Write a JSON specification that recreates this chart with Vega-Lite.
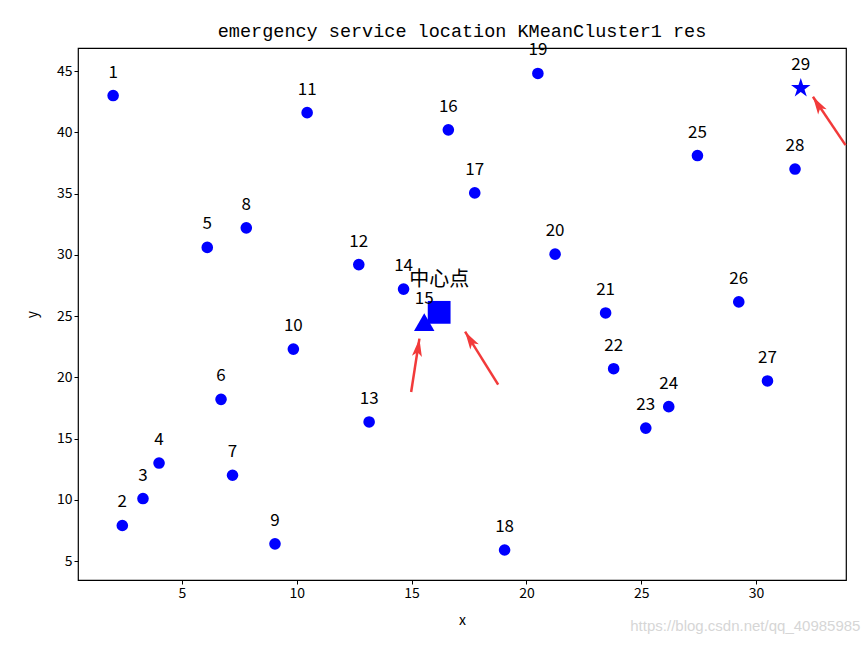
{
  "$schema": "https://vega.github.io/schema/vega-lite/v6.json",
  "autosize": {"type": "none"},
  "width": 768,
  "height": 532,
  "padding": {"left": 78, "top": 48, "right": 22, "bottom": 65},
  "background": "white",
  "config": {
    "font": "Noto Sans CJK SC",
    "view": {"stroke": "black", "strokeWidth": 1.2},
    "axis": {"grid": false, "domain": false, "tickColor": "black", "tickSize": 4, "labelColor": "black", "labelFontSize": 14, "labelFont": "Noto Sans CJK SC", "titleFont": "Noto Sans CJK SC", "titleFontSize": 14, "titleFontWeight": "normal", "titleColor": "black"}
  },
  "title": {"text": "emergency service location KMeanCluster1 res", "font": "Liberation Mono", "fontSize": 18.5, "fontWeight": "normal", "color": "black", "offset": 1},
  "datasets": {
    "pts": [
      {"id": "1", "x": 2.0, "y": 43.0, "type": "point"},
      {"id": "2", "x": 2.4, "y": 7.9, "type": "point"},
      {"id": "3", "x": 3.3, "y": 10.1, "type": "point"},
      {"id": "4", "x": 4.0, "y": 13.0, "type": "point"},
      {"id": "5", "x": 6.1, "y": 30.6, "type": "point"},
      {"id": "6", "x": 6.7, "y": 18.2, "type": "point"},
      {"id": "7", "x": 7.2, "y": 12.0, "type": "point"},
      {"id": "8", "x": 7.8, "y": 32.2, "type": "point"},
      {"id": "9", "x": 9.05, "y": 6.4, "type": "point"},
      {"id": "10", "x": 9.85, "y": 22.3, "type": "point"},
      {"id": "11", "x": 10.45, "y": 41.6, "type": "point"},
      {"id": "12", "x": 12.7, "y": 29.2, "type": "point"},
      {"id": "13", "x": 13.15, "y": 16.35, "type": "point"},
      {"id": "14", "x": 14.65, "y": 27.2, "type": "point"},
      {"id": "15", "x": 15.55, "y": 24.5, "type": "tri"},
      {"id": "16", "x": 16.6, "y": 40.2, "type": "point"},
      {"id": "17", "x": 17.75, "y": 35.05, "type": "point"},
      {"id": "18", "x": 19.05, "y": 5.9, "type": "point"},
      {"id": "19", "x": 20.5, "y": 44.8, "type": "point"},
      {"id": "20", "x": 21.25, "y": 30.05, "type": "point"},
      {"id": "21", "x": 23.45, "y": 25.25, "type": "point"},
      {"id": "22", "x": 23.8, "y": 20.7, "type": "point"},
      {"id": "23", "x": 25.2, "y": 15.85, "type": "point"},
      {"id": "24", "x": 26.2, "y": 17.6, "type": "point"},
      {"id": "25", "x": 27.45, "y": 38.1, "type": "point"},
      {"id": "26", "x": 29.25, "y": 26.15, "type": "point"},
      {"id": "27", "x": 30.5, "y": 19.7, "type": "point"},
      {"id": "28", "x": 31.7, "y": 37.0, "type": "point"},
      {"id": "29", "x": 31.95, "y": 43.6, "type": "star"},
      {"id": "中心点", "x": 16.2, "y": 25.3, "type": "center"}
    ],
    "arrows": [
      {"arrow": "a1", "x": 14.98, "y": 18.8, "x2": 15.34, "y2": 23.15},
      {"arrow": "a2", "x": 18.77, "y": 19.4, "x2": 17.33, "y2": 23.72},
      {"arrow": "a3", "x": 33.9, "y": 38.95, "x2": 32.48, "y2": 42.9}
    ],
    "marks": [
      {"text": "https://blog.csdn.net/qq_40985985", "x": 34.55, "y": -0.3}
    ]
  },
  "layer": [
    {
      "data": {"name": "pts"},
      "transform": [{"filter": "datum.type === 'point'"}],
      "mark": {"type": "point", "shape": "circle", "filled": true, "color": "#0000ff", "opacity": 1, "size": 135},
      "encoding": {
        "x": {"field": "x", "type": "quantitative", "scale": {"domain": [0.47, 33.92], "nice": false, "zero": false}, "axis": {"values": [5, 10, 15, 20, 25, 30], "title": "x", "titlePadding": 13}},
        "y": {"field": "y", "type": "quantitative", "scale": {"domain": [3.45, 46.88], "nice": false, "zero": false}, "axis": {"values": [5, 10, 15, 20, 25, 30, 35, 40, 45], "title": "y", "titlePadding": 17}}
      }
    },
    {
      "data": {"name": "pts"},
      "transform": [{"filter": "datum.type === 'tri'"}],
      "mark": {"type": "point", "shape": "triangle-up", "filled": true, "color": "#0000ff", "opacity": 1, "size": 420},
      "encoding": {
        "x": {"field": "x", "type": "quantitative"},
        "y": {"field": "y", "type": "quantitative"}
      }
    },
    {
      "data": {"name": "pts"},
      "transform": [{"filter": "datum.type === 'center'"}],
      "mark": {"type": "point", "shape": "square", "filled": true, "color": "#0000ff", "opacity": 1, "size": 520},
      "encoding": {
        "x": {"field": "x", "type": "quantitative"},
        "y": {"field": "y", "type": "quantitative"}
      }
    },
    {
      "data": {"name": "pts"},
      "transform": [{"filter": "datum.type === 'star'"}],
      "mark": {"type": "point", "shape": "M0,-1L0.2245,-0.309L0.951,-0.309L0.363,0.118L0.588,0.809L0,0.382L-0.588,0.809L-0.363,0.118L-0.951,-0.309L-0.2245,-0.309Z", "filled": true, "color": "#0000ff", "opacity": 1, "size": 420},
      "encoding": {
        "x": {"field": "x", "type": "quantitative"},
        "y": {"field": "y", "type": "quantitative"}
      }
    },
    {
      "data": {"name": "pts"},
      "transform": [{"filter": "datum.type !== 'center'"}],
      "mark": {"type": "text", "fontSize": 17, "color": "black", "baseline": "middle", "align": "center", "dy": -23},
      "encoding": {
        "x": {"field": "x", "type": "quantitative"},
        "y": {"field": "y", "type": "quantitative"},
        "text": {"field": "id"}
      }
    },
    {
      "data": {"name": "pts"},
      "transform": [{"filter": "datum.type === 'center'"}],
      "mark": {"type": "text", "fontSize": 20, "color": "black", "baseline": "middle", "align": "center", "dy": -32},
      "encoding": {
        "x": {"field": "x", "type": "quantitative"},
        "y": {"field": "y", "type": "quantitative"},
        "text": {"field": "id"}
      }
    },
    {
      "data": {"name": "arrows"},
      "mark": {"type": "rule", "color": "#f23a3a", "strokeWidth": 2.5, "clip": false},
      "encoding": {
        "x": {"field": "x", "type": "quantitative"},
        "y": {"field": "y", "type": "quantitative"},
        "x2": {"field": "x2"},
        "y2": {"field": "y2"}
      }
    },
    {
      "data": {"name": "arrows"},
      "transform": [{"filter": "datum.arrow === 'a1'"}],
      "mark": {"type": "point", "shape": "M0,0L0.45,1.6L0.1,1.3L-0.1,1.3L-0.45,1.6Z", "filled": true, "color": "#f23a3a", "opacity": 1, "size": 500, "angle": 8, "clip": false},
      "encoding": {
        "x": {"field": "x2", "type": "quantitative"},
        "y": {"field": "y2", "type": "quantitative"}
      }
    },
    {
      "data": {"name": "arrows"},
      "transform": [{"filter": "datum.arrow !== 'a1'"}],
      "mark": {"type": "point", "shape": "M0,0L0.45,1.6L0.1,1.3L-0.1,1.3L-0.45,1.6Z", "filled": true, "color": "#f23a3a", "opacity": 1, "size": 500, "angle": 328, "clip": false},
      "encoding": {
        "x": {"field": "x2", "type": "quantitative"},
        "y": {"field": "y2", "type": "quantitative"}
      }
    },
    {
      "data": {"name": "marks"},
      "mark": {"type": "text", "font": "Liberation Sans", "fontSize": 15, "color": "#d6d6d6", "align": "right", "baseline": "middle", "clip": false},
      "encoding": {
        "x": {"field": "x", "type": "quantitative"},
        "y": {"field": "y", "type": "quantitative"},
        "text": {"field": "text"}
      }
    }
  ]
}
